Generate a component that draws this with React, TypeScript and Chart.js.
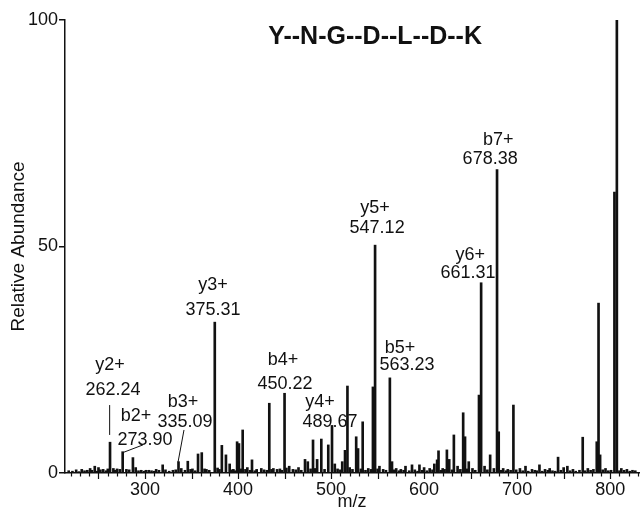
import { useEffect, useRef } from 'react';
import { Chart, registerables } from 'chart.js';

Chart.register(...registerables);

const FONT = '"Liberation Sans", Arial, Helvetica, sans-serif';
const INK = '#111111';

const peptideTitle = 'Y--N-G--D--L--D--K';
const xAxisTitle = 'm/z';
const yAxisTitle = 'Relative Abundance';
const xTickValues = [300, 400, 500, 600, 700, 800];
const yTickValues = [0, 50, 100];

// [m/z, relative abundance %]
const fragmentPeaks: [number, number][] = [
  [232, 0.8], [238, 0.6], [241, 1.0], [246, 1.5], [250, 1.2], [255, 0.8],
  [262.4, 6.8], [266, 1.0], [270, 0.9], [276, 4.7], [280, 0.8], [287, 3.4],
  [290, 1.2], [296, 0.6], [304, 0.6], [312, 0.8], [319, 1.8], [322, 0.7],
  [330, 0.6], [336, 2.5], [339, 1.0], [346, 2.6], [351, 0.9], [357, 4.2],
  [361, 4.5], [366, 0.8], [375, 33.3], [382.6, 6.1], [387, 4.0], [391, 2.0],
  [395, 0.8], [399, 6.9], [401, 6.5], [405, 9.5], [410, 1.2], [415, 2.9],
  [420, 0.8], [425, 1.0], [433.6, 15.4], [438, 1.0], [442, 0.8], [450, 17.6],
  [455, 1.5], [459, 0.8], [465, 1.2], [472, 3.0], [475, 2.5], [480.6, 7.3],
  [485, 3.0], [489.5, 7.5], [497, 6.2], [501, 10.5], [504, 2.0], [512, 2.5],
  [515, 5.0], [517.6, 19.2], [527, 8.0], [529, 5.4], [534, 11.3], [540, 1.0],
  [545, 19.0], [547.3, 50.3], [552, 1.5], [556, 0.8], [563.2, 21.0], [565.5, 2.5],
  [570, 1.0], [575, 0.8], [580, 1.5], [587, 1.8], [595, 1.8], [600, 1.2],
  [606, 1.0], [611, 2.0], [614, 2.9], [615.5, 4.9], [620, 1.0], [624.5, 5.1],
  [627, 3.0], [632, 8.4], [636, 1.5], [642, 13.3], [644, 8.0], [648, 2.5],
  [652, 1.0], [659, 17.2], [661.3, 42.0], [665, 1.5], [671, 4.0], [675, 1.0],
  [678.4, 67.0], [680.2, 9.1], [685, 1.0], [690, 0.8], [696, 15.0], [703, 1.0],
  [709, 1.5], [716, 0.8], [724, 1.8], [730, 0.8], [735, 1.0], [744, 3.5],
  [750, 1.2], [754, 1.5], [760, 0.8], [770.5, 7.9], [776, 1.0], [782, 0.8],
  [785.6, 6.9], [787.5, 37.5], [789.2, 4.0], [795, 1.0], [804.6, 62.0], [807.2, 100],
  [812, 1.0], [818, 0.8], [824, 0.6],
];

const noisePeaks: [number, number][] = [
  [218, 0.5], [222, 0.4], [226, 0.7], [229, 0.3], [235, 0.5], [243, 0.6],
  [248, 0.4], [252, 0.7], [258, 0.5], [260, 0.9], [268, 0.6], [273, 0.8],
  [283, 0.7], [293, 0.5], [299, 0.4], [301, 0.6], [307, 0.5], [310, 0.4],
  [315, 0.6], [326, 0.4], [333, 0.7], [343, 0.6], [349, 0.8], [354, 0.5],
  [364, 0.9], [369, 0.6], [378, 1.1], [380, 0.8], [393, 0.7], [397, 0.5],
  [403, 0.9], [408, 0.8], [413, 0.6], [418, 0.5], [428, 0.7], [431, 0.6],
  [436, 0.8], [445, 0.9], [447, 0.6], [452, 1.1], [462, 0.7], [468, 0.6],
  [478, 0.9], [483, 1.0], [493, 0.8], [507, 0.9], [510, 0.7], [520, 1.2],
  [523, 0.8], [532, 0.9], [537, 0.6], [543, 0.8], [550, 0.9], [559, 0.6],
  [568, 0.7], [573, 0.5], [578, 0.6], [584, 0.5], [590, 0.7], [593, 0.4],
  [598, 0.6], [603, 0.5], [609, 0.7], [618, 0.6], [622, 0.8], [630, 0.7],
  [639, 0.8], [646, 0.9], [655, 0.6], [668, 0.7], [683, 0.6], [688, 0.5],
  [693, 0.6], [699, 0.7], [706, 0.5], [712, 0.4], [719, 0.6], [721, 0.5],
  [727, 0.4], [733, 0.6], [738, 0.5], [741, 0.4], [747, 0.6], [757, 0.5],
  [763, 0.4], [767, 0.6], [773, 0.5], [779, 0.6], [792, 0.7], [798, 0.5],
  [801, 0.6], [810, 0.5], [815, 0.6], [821, 0.4], [827, 0.5],
];

const ionNames = ['y2+', 'b2+', 'b3+', 'y3+', 'b4+', 'y4+', 'y5+', 'b5+', 'y6+', 'b7+'];
const ionMasses = ['262.24', '273.90', '335.09', '375.31', '450.22', '489.67', '547.12', '563.23', '661.31', '678.38'];

// label anchors in data units: [name m/z, name %, mass m/z, mass %]
const ionLabelAnchors: [number, number, number, number][] = [
  [262.4, 23.8, 265.6, 18.3],
  [290.3, 12.6, 300.0, 7.3],
  [340.9, 15.7, 343.0, 11.3],
  [373.1, 41.5, 373.1, 36.0],
  [448.4, 24.9, 450.5, 19.6],
  [488.2, 15.7, 498.9, 11.3],
  [547.3, 58.5, 549.5, 54.1],
  [574.2, 27.6, 581.7, 23.8],
  [649.5, 48.1, 647.3, 44.2],
  [679.6, 73.5, 671.0, 69.3],
];

// leader lines in data units: [from m/z, from %, to m/z, to %]
const leaderLines: [number, number, number, number][] = [
  [262.0, 15.0, 262.0, 8.4],
  [297.8, 6.2, 277.4, 4.6],
  [341.9, 9.5, 335.5, 2.4],
];

const titleAnchor: [number, number] = [547.3, 96.2];

const annotatePlugin = {
  id: 'annotate',
  afterDraw(chart: any) {
    const { ctx } = chart;
    const x = chart.scales.x;
    const y = chart.scales.y;
    ctx.save();
    // minor / medium tick marks on x axis
    ctx.strokeStyle = INK;
    ctx.lineWidth = 1.2;
    for (let v = 220; v <= 830; v += 10) {
      const px = Math.round(x.getPixelForValue(v)) + 0.5;
      const len = v % 50 === 0 ? 6 : 3.5;
      ctx.beginPath();
      ctx.moveTo(px, y.bottom);
      ctx.lineTo(px, y.bottom + len);
      ctx.stroke();
    }
    // leader lines
    ctx.lineWidth = 1;
    leaderLines.forEach(([a, b, c, d]) => {
      ctx.beginPath();
      ctx.moveTo(x.getPixelForValue(a), y.getPixelForValue(b));
      ctx.lineTo(x.getPixelForValue(c), y.getPixelForValue(d));
      ctx.stroke();
    });
    // ion labels
    ctx.fillStyle = INK;
    ctx.textAlign = 'center';
    ctx.textBaseline = 'middle';
    ctx.font = `18px ${FONT}`;
    ionLabelAnchors.forEach(([nx, ny, mx, my], i) => {
      ctx.fillText(ionNames[i], x.getPixelForValue(nx), y.getPixelForValue(ny));
      ctx.fillText(ionMasses[i], x.getPixelForValue(mx), y.getPixelForValue(my));
    });
    // peptide title
    ctx.font = `bold 25px ${FONT}`;
    ctx.fillText(peptideTitle, x.getPixelForValue(titleAnchor[0]), y.getPixelForValue(titleAnchor[1]));
    ctx.restore();
  },
};

export default function App() {
  const ref = useRef<HTMLCanvasElement | null>(null);
  useEffect(() => {
    if (!ref.current) return;
    const allPeaks = [...noisePeaks, ...fragmentPeaks];
    const chart = new Chart(ref.current, {
      type: 'bar',
      data: {
        datasets: [
          {
            data: allPeaks.map(([mz, ab]) => ({ x: mz, y: ab })),
            backgroundColor: INK,
            borderWidth: 0,
            barThickness: 2,
          } as any,
        ],
      },
      options: {
        responsive: false,
        animation: false,
        devicePixelRatio: 1,
        layout: { padding: { top: 20, right: 2, bottom: 0, left: 0 } },
        plugins: { legend: { display: false }, tooltip: { enabled: false } },
        scales: {
          x: {
            type: 'linear',
            min: 214,
            max: 831,
            offset: false,
            afterBuildTicks: (s: any) => {
              s.ticks = xTickValues.map((v) => ({ value: v }));
            },
            afterFit: (s: any) => {
              s.height = 38;
            },
            grid: { display: false, drawTicks: false },
            border: { display: true, color: INK, width: 1.5 },
            ticks: {
              padding: 6,
              color: INK,
              maxRotation: 0,
              autoSkip: false,
              font: { family: FONT, size: 18 },
            },
            title: {
              display: true,
              text: xAxisTitle,
              color: INK,
              font: { family: FONT, size: 18, lineHeight: 1 },
              padding: { top: 0, bottom: 0 },
            },
          },
          y: {
            min: 0,
            max: 100,
            afterBuildTicks: (s: any) => {
              s.ticks = yTickValues.map((v) => ({ value: v }));
            },
            afterFit: (s: any) => {
              s.width = 65;
            },
            grid: { display: true, drawOnChartArea: false, drawTicks: true, tickLength: 6, color: INK, lineWidth: 1.5 },
            border: { display: true, color: INK, width: 1.5 },
            ticks: {
              padding: 1,
              color: INK,
              font: { family: FONT, size: 18 },
            },
            title: {
              display: true,
              text: yAxisTitle,
              color: INK,
              font: { family: FONT, size: 19 },
              padding: { top: 7, bottom: 0 },
            },
          },
        },
      } as any,
      plugins: [annotatePlugin],
    });
    return () => chart.destroy();
  }, []);
  return (
    <div style={{ position: 'absolute', left: 0, top: 0, width: 641, height: 511, background: '#fff' }}>
      <canvas ref={ref} width={641} height={511} />
    </div>
  );
}
